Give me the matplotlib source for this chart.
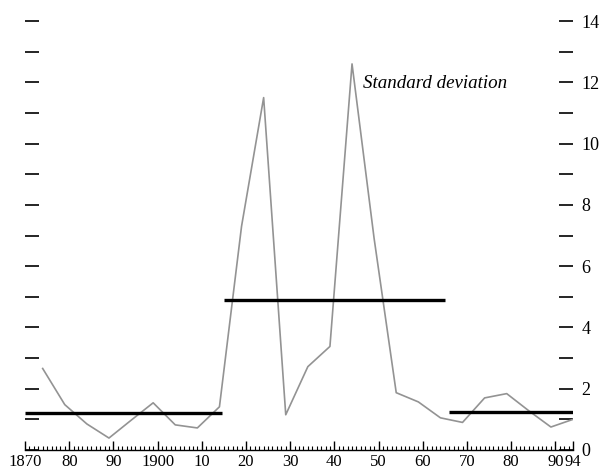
import matplotlib
matplotlib.use("Agg")
import matplotlib.pyplot as plt
from matplotlib.ticker import FixedLocator, MultipleLocator

# standard deviation series (five-year steps)
years = [1874, 1879, 1884, 1889, 1894, 1899, 1904, 1909, 1914, 1919, 1924, 1929,
         1934, 1939, 1944, 1949, 1954, 1959, 1964, 1969, 1974, 1979, 1984, 1989, 1994]
sd = [2.66, 1.48, 0.85, 0.39, 0.97, 1.54, 0.82, 0.72, 1.41, 7.3, 11.5, 1.15,
      2.72, 3.38, 12.6, 6.9, 1.87, 1.57, 1.05, 0.9, 1.7, 1.84, 1.28, 0.75, 1.0]

# period means
mean_start = [1870, 1915, 1966]
mean_end = [1914.5, 1965, 1994]
mean_val = [1.22, 4.88, 1.25]

xticks = [1870, 1880, 1890, 1900, 1910, 1920, 1930, 1940, 1950, 1960, 1970, 1980, 1990, 1994]
xlabels = ["1870", "80", "90", "1900", "10", "20", "30", "40", "50", "60", "70", "80", "90", "94"]
yticks = list(range(0, 15))
ylabels = [str(v) if v % 2 == 0 else "" for v in yticks]

plt.rcParams["font.family"] = ["Liberation Serif", "DejaVu Serif"]
plt.rcParams["font.size"] = 13

fig = plt.figure(figsize=(6.16, 4.76), dpi=100)
ax = fig.add_axes([25 / 616, 26 / 476, 548 / 616, 429 / 476])

ax.plot(years, sd, color="#939393", lw=1.2, zorder=2)
ax.hlines(mean_val, mean_start, mean_end, color="black", lw=2.4, zorder=3)
ax.text(1946.5, 11.95, "Standard deviation", style="italic", fontsize=13.7,
        ha="left", va="center")

ax.set_xlim(1870, 1994)
ax.set_ylim(0, 14)

for s in ("top", "left", "right"):
    ax.spines[s].set_visible(False)
ax.spines["bottom"].set_linewidth(1.0)

ax.xaxis.set_major_locator(FixedLocator(xticks))
ax.set_xticklabels(xlabels)
ax.xaxis.set_minor_locator(MultipleLocator(1))
ax.tick_params(axis="x", which="major", direction="in", length=6.5, width=1.0,
               pad=3, labelsize=12)
ax.tick_params(axis="x", which="minor", direction="in", length=3, width=0.8)

ax.set_yticks(yticks)
ax.set_yticklabels(ylabels)
ax.tick_params(axis="y", which="major", direction="in", length=10, width=1.2,
               left=True, right=True, labelleft=False, labelright=True, pad=6)

fig.savefig("out.png", dpi=100)
